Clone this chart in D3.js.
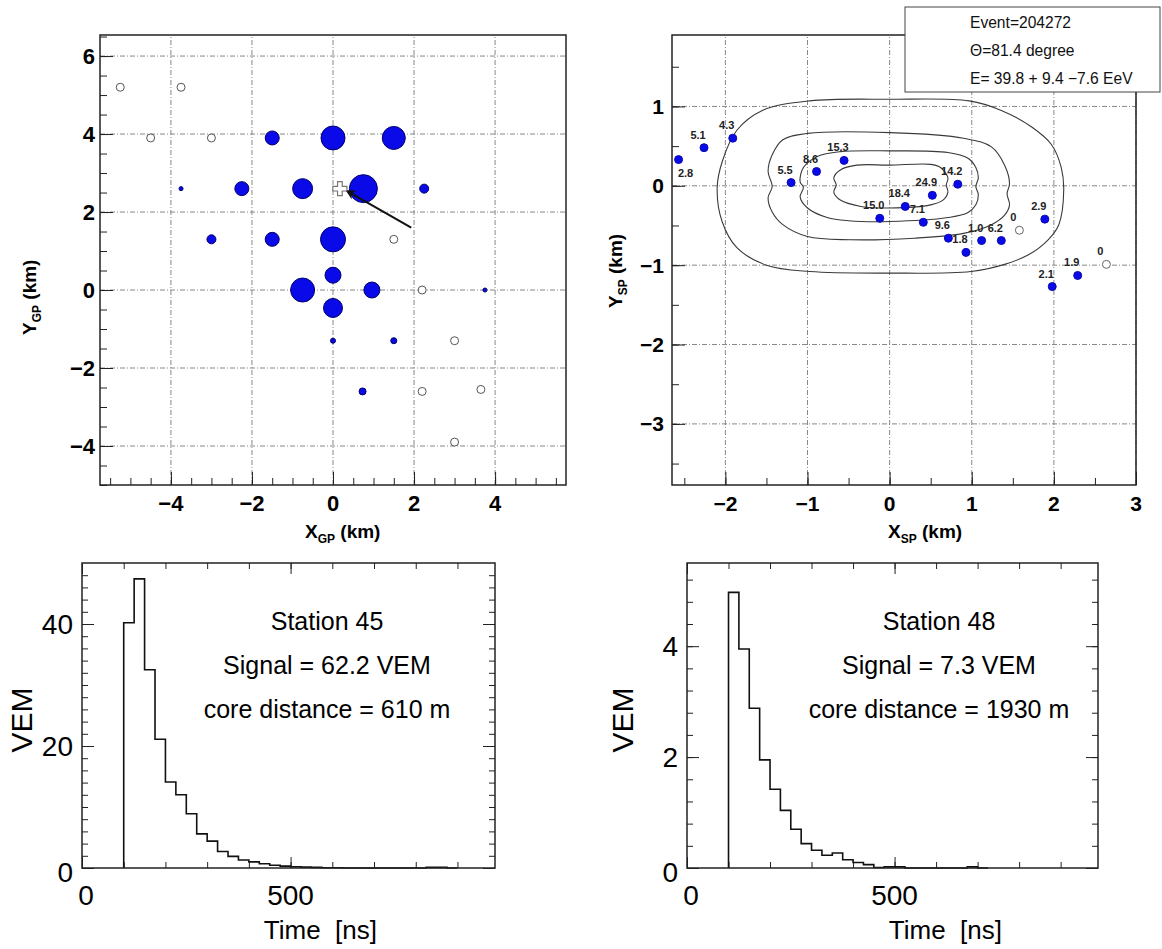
<!DOCTYPE html>
<html>
<head>
<meta charset="utf-8">
<script src="https://cdn.jsdelivr.net/npm/d3@7"></script>
<style>
  body { margin: 0; background: #fff; }
  svg { font-family: "Liberation Sans", Arial, Helvetica, sans-serif; }
  .grid { stroke: #888; stroke-width: 1; stroke-dasharray: 5 2 1 2; fill: none; }
  .frame { fill: none; stroke: #222; stroke-width: 1.5; }
  text { white-space: pre; }
</style>
</head>
<body>
<div id="chart"></div>
<script>
// ---- ground plane stations (km), signal in VEM, 0 = silent station ----
const gpX = [-5.25, -3.75, -4.5, -3.0, 1.5, 2.2, 3.0, 2.2, 3.65, 3.0,
             -1.5, 0, 1.5, -3.75, -2.25, -0.75, 0.75, 2.25, -3.0, -1.5,
             0, 0, -0.75, 0.96, 0, 3.75, 0, 1.5, 0.73];
const gpY = [5.2, 5.2, 3.9, 3.9, 1.3, 0, -1.3, -2.6, -2.55, -3.9,
             3.9, 3.9, 3.9, 2.6, 2.6, 2.6, 2.6, 2.6, 1.3, 1.3,
             1.3, 0.38, 0, 0, -0.46, 0, -1.3, -1.3, -2.6];
const gpSignal = [0, 0, 0, 0, 0, 0, 0, 0, 0, 0,
                  15.6, 45.7, 42.0, 1.3, 15.6, 31.7, 62.2, 6.4, 6.4, 15.6,
                  49.6, 20.3, 45.7, 20.3, 28.6, 1.3, 2.0, 2.9, 3.9];
const gpCore = [0.17, 2.6];
const gpArrow = [[1.93, 1.6], [0.33, 2.55]];

// ---- shower plane stations (km) with signals ----
const spX = [-2.57, -2.26, -1.91, -1.2, -0.89, -0.555, -0.12, 0.19, 0.52, 0.83,
             0.41, 0.715, 0.93, 1.12, 1.36, 1.58, 1.89, 1.98, 2.29, 2.64];
const spY = [0.33, 0.48, 0.6, 0.04, 0.18, 0.32, -0.41, -0.26, -0.12, 0.02,
             -0.46, -0.66, -0.84, -0.69, -0.69, -0.56, -0.42, -1.27, -1.13, -0.99];
const spSignal = [2.8, 5.1, 4.3, 5.5, 8.6, 15.3, 15.0, 18.4, 24.9, 14.2,
                  7.1, 9.6, 1.8, 1.0, 6.2, 0, 2.9, 2.1, 1.9, 0];

// ---- shower-plane signal contours (km) ----
const contour1 = [[-2.1, -0.03], [-2.04, 0.3], [-1.86, 0.7], [-1.55, 0.95], [-0.97, 1.07], [0, 1.09],
  [0.97, 1.07], [1.36, 0.95], [1.73, 0.74], [1.97, 0.52], [2.09, 0.23], [2.12, -0.05], [2.06, -0.49],
  [1.93, -0.68], [1.69, -0.87], [1.4, -0.99], [0.99, -1.08], [0, -1.1], [-0.97, -1.08], [-1.5, -1.0],
  [-1.86, -0.78], [-2.04, -0.45]];
const contour2 = [[-1.48, 0.18], [-1.43, 0.39], [-1.3, 0.58], [-1.0, 0.66], [0, 0.67], [0.9, 0.6],
  [1.24, 0.49], [1.4, 0.26], [1.46, 0.03], [1.43, -0.1], [1.46, -0.24], [1.4, -0.37], [1.24, -0.49],
  [0.9, -0.6], [0.3, -0.66], [-0.48, -0.68], [-1.0, -0.64], [-1.3, -0.49], [-1.43, -0.33], [-1.48, -0.15],
  [-1.43, -0.01]];
const contour3 = [[-1.09, 0.05], [-1.05, 0.23], [-0.88, 0.37], [-0.6, 0.43], [0, 0.44], [0.71, 0.42],
  [0.95, 0.35], [1.05, 0.23], [1.08, 0.1], [1.05, -0.01], [1.08, -0.11], [1.05, -0.24], [0.95, -0.34],
  [0.71, -0.4], [0, -0.45], [-0.5, -0.44], [-0.76, -0.4], [-1.0, -0.28], [-1.09, -0.14], [-1.05, -0.02]];
const contour4 = [[-0.68, 0.1], [-0.6, 0.2], [-0.4, 0.26], [0, 0.26], [0.5, 0.27], [0.62, 0.23],
  [0.71, 0.1], [0.69, 0.01], [0.71, -0.08], [0.65, -0.18], [0.5, -0.24], [0, -0.28], [-0.35, -0.26],
  [-0.6, -0.18], [-0.68, -0.08], [-0.65, 0.01]];
const contours = [contour1, contour2, contour3, contour4];

const eventInfo = ["Event=204272", "\u0398=81.4 degree", "E= 39.8 + 9.4 \u22127.6 EeV"];

// ---- FADC traces: 25 ns bins starting at 100 ns ----
const traceStart = 100, traceBin = 25;
const trace45 = [40.2, 47.4, 32.5, 21.1, 14.1, 12.0, 8.9, 5.6, 4.4, 2.7, 1.9, 1.3, 1.0, 0.7, 0.45, 0.3,
                 0.2, 0.15, 0.1, 0.05, 0.05, 0, 0, 0, 0, 0, 0, 0, 0, 0.1, 0.1, 0];
const trace48 = [4.97, 3.95, 2.88, 1.95, 1.42, 1.04, 0.70, 0.44, 0.32, 0.23, 0.27, 0.15, 0.10, 0.06, 0.01,
                 0.02, 0.02, 0, 0, 0, 0, 0, 0, 0.02, 0];
const station45Text = ["Station 45", "Signal = 62.2 VEM", "core distance = 610 m"];
const station48Text = ["Station 48", "Signal = 7.3 VEM", "core distance = 1930 m"];

// ---- tick values ----
const gpXMajor = [-4, -2, 0, 2, 4], gpYMajor = [-4, -2, 0, 2, 4, 6];
const gpXMinor = d3.range(-5.5, 5.51, 0.5), gpYMinor = d3.range(-5, 6.51, 0.5);
const spXMajor = [-2, -1, 0, 1, 2, 3], spYMajor = [-3, -2, -1, 0, 1];
const spXMinor = d3.range(-2.5, 3.01, 0.5), spYMinor = d3.range(-3.5, 1.51, 0.5);
const timeMajor = [0, 500], timeMinor = d3.range(0, 901, 100);
const vem45Major = [0, 20, 40], vem45Minor = d3.range(0, 50, 2);
const vem48Major = [0, 2, 4], vem48Minor = d3.range(0, 5.4, 0.4);

const svg = d3.select("#chart").append("svg").attr("width", 1162).attr("height", 949);
const fmt = d3.format("");

function ticks(g, axisFn, scale, values, len, transform) {
  g.append("g").attr("transform", transform)
    .call(axisFn(scale).tickValues(values).tickSize(-len).tickFormat(""))
    .call(a => a.select(".domain").remove())
    .selectAll("line").attr("stroke", "#222");
}

function grid(g, x, y, xv, yv) {
  const [x0, x1] = x.range(), [y0, y1] = y.range();
  g.selectAll(null).data(xv).enter().append("line").attr("class", "grid")
    .attr("x1", d => x(d)).attr("x2", d => x(d)).attr("y1", y0).attr("y2", y1);
  g.selectAll(null).data(yv).enter().append("line").attr("class", "grid")
    .attr("y1", d => y(d)).attr("y2", d => y(d)).attr("x1", x0).attr("x2", x1);
}

function labelsY(g, y, values, xpos, size, weight) {
  g.selectAll(null).data(values).enter().append("text")
    .attr("x", xpos).attr("y", d => y(d)).attr("dy", "0.35em")
    .attr("text-anchor", "end").attr("font-size", size).attr("font-weight", weight)
    .text(d => fmt(d));
}

function labelsX(g, x, values, ypos, size, weight) {
  g.selectAll(null).data(values).enter().append("text")
    .attr("x", d => x(d)).attr("y", ypos)
    .attr("text-anchor", "middle").attr("font-size", size).attr("font-weight", weight)
    .text(d => fmt(d));
}

function frame(g, x, y) {
  const [x0, x1] = x.range(), [y0, y1] = y.range();
  g.append("rect").attr("class", "frame")
    .attr("x", x0).attr("y", y1).attr("width", x1 - x0).attr("height", y0 - y1);
}

function subTitle(g, px, py, main, sub, rotate) {
  const t = g.append("text")
    .attr("transform", `translate(${px},${py})` + (rotate ? " rotate(-90)" : ""))
    .attr("font-size", 19).attr("font-weight", "bold");
  t.append("tspan").text(main);
  t.append("tspan").attr("font-size", 12).attr("dy", 5).text(sub);
  t.append("tspan").attr("dy", -5).text(" (km)");
}

// =============== top-left: ground plane ===============
{
  const g = svg.append("g");
  const x = d3.scaleLinear().domain([-5.75, 5.75]).range([100, 566]);
  const y = d3.scaleLinear().domain([-5, 6.54]).range([485, 35]);
  grid(g, x, y, gpXMajor, gpYMajor);
  ticks(g, d3.axisLeft, y, gpYMinor, 7, `translate(${x.range()[0]},0)`);
  ticks(g, d3.axisLeft, y, gpYMajor, 13, `translate(${x.range()[0]},0)`);
  ticks(g, d3.axisBottom, x, gpXMinor, 7, `translate(0,${y.range()[0]})`);
  ticks(g, d3.axisBottom, x, gpXMajor, 13, `translate(0,${y.range()[0]})`);

  const r = d3.scaleSqrt().domain([0, 62.2]).range([0, 14]);
  const st = gpX.map((d, i) => ({ x: d, y: gpY[i], s: gpSignal[i] }));
  g.selectAll(".silent").data(st.filter(d => d.s === 0)).enter().append("circle")
    .attr("cx", d => x(d.x)).attr("cy", d => y(d.y)).attr("r", 4)
    .attr("fill", "#fff").attr("stroke", "#555").attr("stroke-width", 1);
  g.selectAll(".hit").data(st.filter(d => d.s > 0)).enter().append("circle")
    .attr("cx", d => x(d.x)).attr("cy", d => y(d.y)).attr("r", d => r(d.s))
    .attr("fill", "#0a0ae8").attr("stroke", "#00006a").attr("stroke-width", 1);

  // arrow towards the core
  svg.append("defs").append("marker").attr("id", "head")
    .attr("viewBox", "0 0 10 10").attr("refX", 9).attr("refY", 5)
    .attr("markerWidth", 5).attr("markerHeight", 5).attr("orient", "auto")
    .append("path").attr("d", "M0,0 L10,5 L0,10 L3,5 Z").attr("fill", "#111");
  g.append("line")
    .attr("x1", x(gpArrow[0][0])).attr("y1", y(gpArrow[0][1]))
    .attr("x2", x(gpArrow[1][0])).attr("y2", y(gpArrow[1][1]))
    .attr("stroke", "#111").attr("stroke-width", 2).attr("marker-end", "url(#head)");
  g.append("path").attr("d", d3.symbol(d3.symbolCross, 110)())
    .attr("transform", `translate(${x(gpCore[0])},${y(gpCore[1])})`)
    .attr("fill", "#fff").attr("stroke", "#777").attr("stroke-width", 1.2);

  frame(g, x, y);
  labelsY(g, y, gpYMajor, 95, 22, "bold");
  labelsX(g, x, gpXMajor, 511, 22, "bold");
  subTitle(g, 305, 538, "X", "GP", false);
  subTitle(g, 36, 335, "Y", "GP", true);
}

// =============== top-right: shower plane ===============
{
  const g = svg.append("g");
  const x = d3.scaleLinear().domain([-2.65, 3.0]).range([672, 1136]);
  const y = d3.scaleLinear().domain([-3.77, 1.9]).range([485, 35]);
  grid(g, x, y, spXMajor, spYMajor);
  ticks(g, d3.axisLeft, y, spYMinor, 7, `translate(${x.range()[0]},0)`);
  ticks(g, d3.axisLeft, y, spYMajor, 13, `translate(${x.range()[0]},0)`);
  ticks(g, d3.axisBottom, x, spXMinor, 7, `translate(0,${y.range()[0]})`);
  ticks(g, d3.axisBottom, x, spXMajor, 13, `translate(0,${y.range()[0]})`);

  const line = d3.line().x(d => x(d[0])).y(d => y(d[1])).curve(d3.curveCatmullRomClosed.alpha(0.5));
  g.selectAll(".contour").data(contours).enter().append("path")
    .attr("d", line).attr("fill", "none").attr("stroke", "#3a3a3a").attr("stroke-width", 1.1);

  const st = spX.map((d, i) => ({ x: d, y: spY[i], s: spSignal[i] }));
  g.selectAll(".sp").data(st).enter().append("circle")
    .attr("cx", d => x(d.x)).attr("cy", d => y(d.y)).attr("r", 4)
    .attr("fill", d => d.s > 0 ? "#0a0ae8" : "#fff")
    .attr("stroke", d => d.s > 0 ? "#0a0ab0" : "#666").attr("stroke-width", 1);
  g.selectAll(".sl").data(st).enter().append("text")
    .attr("x", (d, i) => x(d.x) + (i === 0 ? 7 : -6))
    .attr("y", (d, i) => y(d.y) + (i === 0 ? 17 : -9))
    .attr("text-anchor", "middle").attr("font-size", 11).attr("font-weight", "bold").attr("fill", "#222")
    .text(d => d.s === 0 ? "0" : d3.format(".1f")(d.s));

  frame(g, x, y);
  labelsY(g, y, spYMajor, 664, 21, "bold");
  labelsX(g, x, spXMajor, 511, 21, "bold");
  subTitle(g, 888, 538, "X", "SP", false);
  subTitle(g, 622, 308, "Y", "SP", true);

  // event info box
  const box = svg.append("g");
  box.append("rect").attr("x", 905).attr("y", 7).attr("width", 255).attr("height", 85)
    .attr("fill", "#fff").attr("stroke", "#444").attr("stroke-width", 1);
  box.selectAll(null).data(eventInfo).enter().append("text")
    .attr("x", 970).attr("y", (d, i) => 28 + i * 28)
    .style("font-size", "15.6px").attr("fill", "#111")
    .text(d => d);
}

// =============== bottom: FADC traces ===============
function tracePanel(xRange, vemMax, values, major, minor, texts, textX, vemX, titleEnd) {
  const g = svg.append("g");
  const x = d3.scaleLinear().domain([0, 990]).range(xRange);
  const y = d3.scaleLinear().domain([0, vemMax]).range([868, 563]);
  const [x0, x1] = x.range(), [y0, y1] = y.range();
  ticks(g, d3.axisLeft, y, minor, 6, `translate(${x0},0)`);
  ticks(g, d3.axisLeft, y, major, 12, `translate(${x0},0)`);
  ticks(g, d3.axisRight, y, minor, 6, `translate(${x1},0)`);
  ticks(g, d3.axisRight, y, major, 12, `translate(${x1},0)`);
  ticks(g, d3.axisBottom, x, timeMinor, 6, `translate(0,${y0})`);
  ticks(g, d3.axisBottom, x, timeMajor, 11, `translate(0,${y0})`);
  ticks(g, d3.axisTop, x, timeMinor, 6, `translate(0,${y1})`);
  ticks(g, d3.axisTop, x, timeMajor, 11, `translate(0,${y1})`);

  const pts = [[traceStart, 0]];
  values.forEach((v, i) => {
    pts.push([traceStart + i * traceBin, v]);
    pts.push([traceStart + (i + 1) * traceBin, v]);
  });
  pts.push([traceStart + values.length * traceBin, 0]);
  g.append("path").attr("d", d3.line().x(d => x(d[0])).y(d => y(d[1]))(pts))
    .attr("fill", "none").attr("stroke", "#111").attr("stroke-width", 1.6);

  frame(g, x, y);
  g.selectAll(null).data(major).enter().append("text")
    .attr("x", x0 - 9).attr("y", d => y(d) + (d === 0 ? 4 : 0)).attr("dy", "0.36em")
    .attr("text-anchor", "end").attr("font-size", 28).text(d => fmt(d));
  g.selectAll(null).data(timeMajor).enter().append("text")
    .attr("x", d => x(d) + (d === 0 ? 4 : 0)).attr("y", 905)
    .attr("text-anchor", "middle").attr("font-size", 28).text(d => fmt(d));
  g.append("text").attr("x", titleEnd).attr("y", 939).attr("text-anchor", "end")
    .attr("font-size", 26).text("Time  [ns]");
  g.append("text").attr("transform", `translate(${vemX},720) rotate(-90)`)
    .attr("text-anchor", "middle").attr("font-size", 30).text("VEM");
  g.selectAll(null).data(texts).enter().append("text")
    .attr("x", textX).attr("y", (d, i) => 630 + i * 44)
    .attr("text-anchor", "middle").attr("font-size", 25).text(d => d);
}

tracePanel([82, 495], 50, trace45, vem45Major, vem45Minor, station45Text, 327, 32, 377);
tracePanel([687, 1098], 5.5, trace48, vem48Major, vem48Minor, station48Text, 939, 633, 1002);
</script>
</body>
</html>
